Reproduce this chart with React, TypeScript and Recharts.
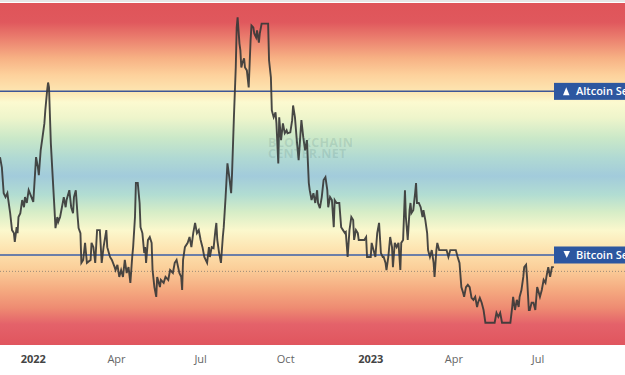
import {
  ComposedChart,
  Line,
  XAxis,
  YAxis,
  ReferenceLine,
  ReferenceArea,
} from "recharts";

// days since 2022-01-01
const days = [
  -36, -34, -32, -30, -28, -27, -25, -23, -21, -20, -18, -17, -16, -14, -12, -10, -9, -7, -5, -2,
  0, 1, 3, 5, 6, 8, 10, 12, 13, 15, 16, 17, 19, 21, 23, 24, 26, 27, 29, 31,
  33, 35, 36, 39, 41, 43, 44, 46, 48, 49, 51, 52, 54, 56, 58, 62, 63, 65, 67, 69,
  72, 74, 76, 79, 80, 83, 85, 88, 89, 91, 93, 95, 97, 99, 101, 103, 105, 107, 108, 110,
  111, 113, 115, 116, 118, 120, 121, 122, 124, 126, 128, 129, 131, 133, 134, 137, 138, 141, 143, 146,
  148, 151, 153, 155, 158, 160, 161, 162, 164, 167, 169, 171, 173, 175, 177, 179, 181, 183, 185, 188,
  190, 191, 193, 195, 197, 198, 199, 201, 203, 205, 206, 208, 210, 212, 214, 215, 217, 219, 220, 221,
  223, 224, 225, 226, 228, 229, 231, 233, 235, 236, 238, 239, 241, 242, 244, 245, 247, 249, 252, 254,
  255, 257, 258, 260, 262, 263, 265, 266, 268, 270, 272, 274, 275, 278, 280, 281, 283, 285, 287, 290,
  292, 294, 296, 298, 299, 301, 303, 305, 307, 308, 310, 312, 314, 316, 318, 319, 321, 323, 325, 326,
  328, 331, 333, 335, 337, 338, 340, 342, 344, 346, 347, 349, 351, 352, 355, 358, 360, 361, 363, 365,
  366, 368, 370, 372, 374, 376, 378, 379, 381, 382, 384, 386, 388, 389, 391, 393, 395, 397, 398, 400,
  402, 403, 405, 407, 408, 409, 411, 413, 414, 415, 417, 419, 421, 422, 424, 426, 427, 429, 431, 433,
  434, 436, 437, 439, 440, 444, 447, 449, 451, 454, 457, 459, 461, 463, 465, 466, 468, 470, 472, 474,
  476, 478, 480, 481, 483, 485, 487, 489, 492, 496, 499, 501, 503, 505, 507, 510, 514, 516, 518, 519,
  521, 523, 525, 526, 528, 530, 531, 533, 534, 536, 537, 539, 541, 543, 545, 546, 548, 550, 552, 554,
  555, 557, 559, 561, 563,
];

const seasonIndex = [
  54.9, 51.8, 43.9, 42.7, 43.9, 41.8, 37.8, 32.6, 31.7, 29.0, 33.5, 31.7, 36.6, 37.8, 41.8, 39.6, 42.7, 40.9, 44.8, 42.7,
  41.2, 45.7, 54.9, 51.8, 49.4, 57.0, 61.0, 65.2, 69.2, 75.3, 77.7, 76.2, 59.1, 48.8, 38.7, 33.2, 36.6, 35.1, 36.6, 39.6,
  42.7, 39.6, 41.8, 44.8, 39.6, 37.8, 42.7, 44.8, 36.6, 33.2, 31.7, 22.6, 23.5, 28.7, 22.6, 23.5, 28.7, 27.4, 22.6, 32.6,
  32.6, 22.6, 27.4, 32.6, 27.4, 24.4, 23.5, 21.3, 20.4, 22.0, 18.3, 20.4, 18.3, 23.5, 19.5, 21.3, 16.5, 24.4, 27.4, 36.6,
  47.0, 47.0, 40.9, 33.5, 31.7, 25.6, 27.4, 22.6, 29.6, 30.5, 28.7, 20.4, 15.2, 12.2, 18.3, 15.2, 17.4, 16.5, 18.3, 17.4,
  20.4, 19.5, 22.6, 23.5, 19.5, 18.3, 14.3, 23.5, 27.4, 28.7, 30.5, 27.4, 31.7, 34.8, 31.7, 32.6, 29.6, 27.4, 24.4, 22.6,
  27.4, 24.4, 27.4, 27.1, 32.6, 34.8, 29.6, 25.6, 22.6, 30.5, 33.5, 42.7, 53.0, 48.8, 43.9, 50.0, 67.1, 82.3, 94.5, 97.6,
  89.6, 87.5, 82.3, 83.5, 85.1, 82.3, 81.4, 76.2, 90.5, 95.1, 94.5, 92.7, 91.5, 93.6, 89.9, 92.7, 95.7, 95.7, 95.7, 95.7,
  84.5, 79.3, 69.2, 67.1, 68.6, 65.2, 53.0, 67.1, 60.1, 65.2, 62.2, 63.1, 62.2, 62.5, 66.2, 70.7, 67.1, 60.1, 54.0, 66.2,
  61.0, 57.0, 60.1, 47.0, 44.8, 41.8, 43.9, 40.9, 44.8, 40.9, 39.3, 42.7, 47.9, 48.8, 44.8, 39.6, 42.7, 41.8, 33.5, 41.8,
  40.9, 40.9, 33.5, 32.6, 31.7, 32.0, 24.4, 32.6, 36.6, 35.7, 29.6, 32.6, 31.7, 29.6, 29.6, 29.6, 30.5, 24.4, 24.4, 24.4,
  28.7, 26.5, 24.4, 31.7, 34.8, 25.6, 24.4, 24.4, 22.6, 20.4, 24.4, 30.5, 27.4, 21.3, 28.7, 27.4, 28.7, 20.4, 28.7, 29.6,
  44.8, 36.6, 29.6, 38.7, 40.9, 37.8, 38.7, 43.9, 47.0, 40.9, 40.9, 39.6, 36.6, 38.7, 35.7, 31.7, 26.5, 24.4, 26.5, 22.6,
  18.3, 26.5, 28.7, 26.5, 26.5, 26.5, 26.5, 24.4, 26.5, 26.5, 26.5, 24.4, 22.6, 15.2, 13.4, 12.2, 15.2, 15.9, 15.2, 11.9,
  11.3, 12.2, 9.1, 10.4, 11.9, 10.4, 8.2, 4.3, 4.3, 4.3, 4.3, 7.3, 6.1, 7.3, 4.3, 4.3, 4.3, 4.3, 9.1, 12.2,
  8.2, 11.3, 9.1, 12.2, 14.3, 18.3, 21.3, 22.0, 18.3, 8.2, 8.2, 10.4, 10.4, 8.2, 15.2, 14.3, 12.2, 14.3, 17.4, 16.5,
  18.3, 21.3, 18.3, 21.3, 21.3,
];

const tickDays = [0, 90, 181, 273, 365, 455, 546];
const tickLabels = ["2022", "Apr", "Jul", "Oct", "2023", "Apr", "Jul"];
const yearTicks = ["2022", "2023"];

const data = days.map((d, i) => ({ day: d, value: seasonIndex[i] }));

const FONT = "'Open Sans', 'DejaVu Sans', sans-serif";

function DateTick(props: any) {
  const { x, y, index } = props;
  const label = tickLabels[index];
  const isYear = yearTicks.includes(label);
  return (
    <text
      x={x}
      y={y}
      dy={18}
      textAnchor="middle"
      fontFamily={FONT}
      fontSize={11}
      fontWeight={isYear ? 700 : 400}
      fill={isYear ? "#444" : "#666"}
    >
      {label}
    </text>
  );
}

// season badge hanging off the right edge, as in the original
function SeasonTag(props: any) {
  const { viewBox, text, up } = props;
  if (!viewBox) return null;
  const left = viewBox.x + viewBox.width - 71;
  const y = viewBox.y;
  const tri = up
    ? `${left + 9},${y + 4} ${left + 15.5},${y + 4} ${left + 12.25},${y - 4}`
    : `${left + 9.5},${y - 4} ${left + 16},${y - 4} ${left + 12.75},${y + 3}`;
  return (
    <g>
      <rect x={left} y={y - 8.5} width={120} height={17} fill="#2d57a0" />
      <polygon points={tri} fill="#fff" />
      <text x={left + 22} y={y + 4} fill="#fff" fontFamily={FONT} fontSize={11} fontWeight={600}>
        {text}
      </text>
    </g>
  );
}

export default function App() {
  return (
    <div
      style={{
        position: "absolute",
        left: 0,
        top: 0,
        width: 625,
        height: 375,
        overflow: "hidden",
        background: "#fff",
      }}
    >
      <div style={{ height: 2, background: "#e6e6e6" }} />
      <ComposedChart
        width={625}
        height={373}
        data={data}
        margin={{ top: 1, right: 0, bottom: 0, left: 0 }}
      >
        <defs>
          <linearGradient id="seasonBg" x1="0" y1="0" x2="0" y2="1">
            <stop offset="0" stopColor="#df5459" />
            <stop offset="0.056" stopColor="#e0585d" />
            <stop offset="0.108" stopColor="#ec8370" />
            <stop offset="0.161" stopColor="#f7b184" />
            <stop offset="0.21" stopColor="#fdd19c" />
            <stop offset="0.26" stopColor="#fde6b2" />
            <stop offset="0.29" stopColor="#fcfad0" />
            <stop offset="0.336" stopColor="#eef5cb" />
            <stop offset="0.395" stopColor="#cae8c8" />
            <stop offset="0.453" stopColor="#b0d9d3" />
            <stop offset="0.506" stopColor="#a2cbdb" />
            <stop offset="0.561" stopColor="#b2ddd2" />
            <stop offset="0.611" stopColor="#d6edc7" />
            <stop offset="0.664" stopColor="#fbf8cd" />
            <stop offset="0.716" stopColor="#fde5b2" />
            <stop offset="0.775" stopColor="#fbcf9a" />
            <stop offset="0.839" stopColor="#f5aa80" />
            <stop offset="0.892" stopColor="#ee8b72" />
            <stop offset="0.939" stopColor="#e4626a" />
            <stop offset="1" stopColor="#e0555e" />
          </linearGradient>
        </defs>
        <XAxis
          dataKey="day"
          type="number"
          domain={[-36, 640]}
          ticks={tickDays}
          tick={<DateTick />}
          tickLine={false}
          axisLine={false}
          tickSize={0}
          tickMargin={0}
          height={30}
          allowDataOverflow
        />
        <YAxis type="number" domain={[-2.5, 102]} hide allowDataOverflow />
        <ReferenceArea
          y1={-2.5}
          y2={102}
          fill="url(#seasonBg)"
          fillOpacity={1}
          stroke="none"
          ifOverflow="hidden"
        />
        <ReferenceLine y={20} stroke="#9c8a78" strokeDasharray="1 2" strokeWidth={1} />
        <ReferenceLine
          y={75}
          stroke="#3e5696"
          strokeWidth={1.5}
          label={<SeasonTag text="Altcoin Season" up />}
        />
        <ReferenceLine
          y={25}
          stroke="#6c7fa8"
          strokeWidth={2}
          label={<SeasonTag text="Bitcoin Season" />}
        />
        <Line
          type="linear"
          dataKey="value"
          stroke="#383838"
          strokeWidth={1.9}
          strokeOpacity={0.92}
          dot={false}
          isAnimationActive={false}
        />
      </ComposedChart>
      <div
        style={{
          position: "absolute",
          left: 268,
          top: 137,
          fontFamily: FONT,
          fontWeight: 700,
          fontSize: 12.5,
          lineHeight: "11px",
          color: "rgba(70, 110, 110, 0.16)",
          letterSpacing: 0.3,
          pointerEvents: "none",
        }}
      >
        BLOCKCHAIN
        <br />
        CENTER.NET
      </div>
    </div>
  );
}
